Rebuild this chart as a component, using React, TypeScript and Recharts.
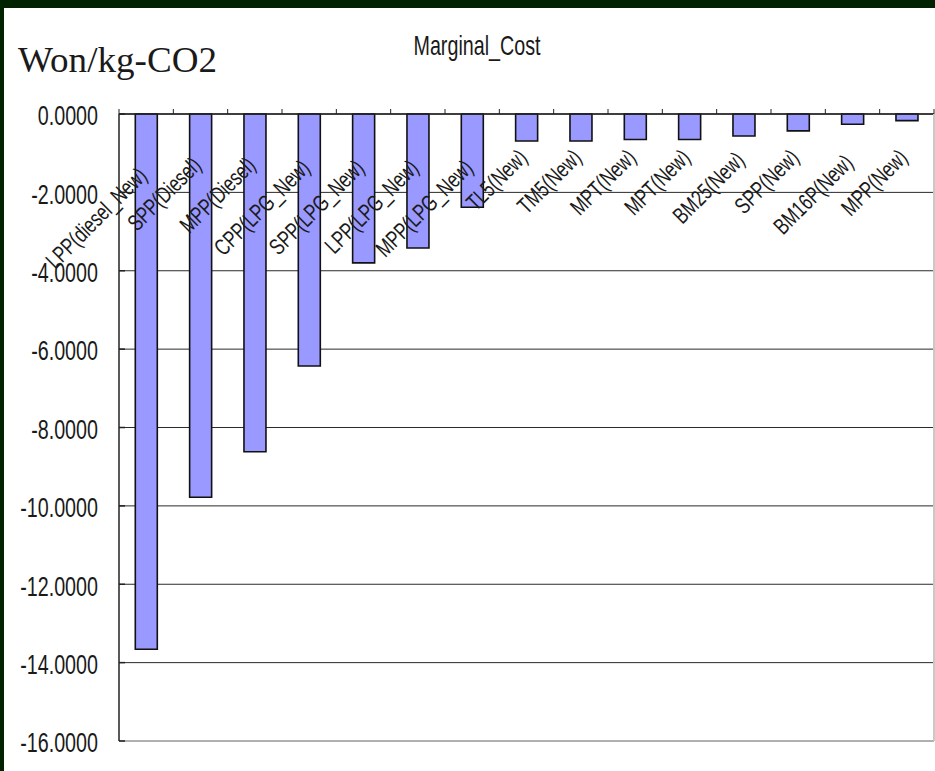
import React from 'react';
import { BarChart, Bar, XAxis, YAxis, CartesianGrid, ReferenceLine, Customized } from 'recharts';

// Marginal abatement cost per technology option (Won per kg of CO2)
const categories = [
  'LPP(diesel_New)',
  'SPP(Diesel)',
  'MPP(Diesel)',
  'CPP(LPG_New)',
  'SPP(LPG_New)',
  'LPP(LPG_New)',
  'MPP(LPG_New)',
  'TL5(New)',
  'TM5(New)',
  'MPT(New)',
  'MPT(New)',
  'BM25(New)',
  'SPP(New)',
  'BM16P(New)',
  'MPP(New)',
];
const marginalCost = [
  -13.66, -9.78, -8.62, -6.43, -3.8, -3.42, -2.38, -0.69, -0.69, -0.65, -0.65, -0.56, -0.43, -0.26, -0.17,
];
const yTicks = [0, -2, -4, -6, -8, -10, -12, -14, -16];
const chartTitle = 'Marginal_Cost';
const unitLabel = 'Won/kg-CO2';

const data = categories.map((name, i) => ({ name, value: marginalCost[i] }));

const W = 935;
const H = 771;
const LEFT_AXIS_W = 119;
const RIGHT_AXIS_W = 1;
const BAND = (W - LEFT_AXIS_W - RIGHT_AXIS_W) / categories.length;
const X_TICK = 5;
const Y_TICK_MARGIN = 21;
const FONT = '"Liberation Sans", Arial, sans-serif';
const TEXT = '#1a1a1a';

// Category labels sit under the zero line, rotated, ending near the category centre;
// longer names drop slightly lower.
const XTick = (props: any) => {
  const { x, y, payload, index } = props;
  const axisY = y + X_TICK;
  const label = String(payload.value);
  const px = x + 2;
  const py = axisY + 45 + (label.length - 8) * 2.6;
  const left = x - BAND / 2;
  const right = x + BAND / 2;
  return (
    <g>
      <line x1={left} x2={left} y1={axisY} y2={axisY - X_TICK} stroke="#222" strokeWidth={1} />
      {index === categories.length - 1 && (
        <line x1={right} x2={right} y1={axisY} y2={axisY - X_TICK} stroke="#222" strokeWidth={1} />
      )}
      <text
        transform={`translate(${px},${py}) rotate(-45) scale(0.74,1)`}
        textAnchor="end"
        fontFamily={FONT}
        fontSize={23}
        fill={TEXT}
      >
        {label}
      </text>
    </g>
  );
};

const YTick = (props: any) => {
  const { x, y, payload } = props;
  const axisX = x + Y_TICK_MARGIN;
  return (
    <g>
      <line x1={axisX} x2={axisX + 6} y1={y} y2={y} stroke="#222" strokeWidth={1.5} />
      <text
        transform={`translate(${x},${y + 11.3}) scale(0.73,1)`}
        textAnchor="end"
        fontFamily={FONT}
        fontSize={27}
        fill={TEXT}
      >
        {Number(payload.value).toFixed(4)}
      </text>
    </g>
  );
};

const Headings = () => (
  <g>
    <text
      transform="translate(477,54.5) scale(0.73,1)"
      textAnchor="middle"
      fontFamily={FONT}
      fontSize={27}
      fill={TEXT}
    >
      {chartTitle}
    </text>
    <text
      x={18}
      y={72}
      fontFamily={'"Liberation Serif", "DejaVu Serif", serif'}
      fontSize={35}
      textLength={199}
      lengthAdjust="spacingAndGlyphs"
      fill={TEXT}
    >
      {unitLabel}
    </text>
  </g>
);

export default function App() {
  return (
    <div style={{ position: 'fixed', left: 0, top: 0, width: W, height: H, background: '#002200' }}>
      <div style={{ position: 'absolute', left: 4, top: 8, right: 0, bottom: 0, background: '#ffffff' }} />
      <div style={{ position: 'absolute', left: 0, top: 0 }}>
        <BarChart
          width={W}
          height={H}
          data={data}
          margin={{ top: 84, right: 0, bottom: 30, left: 0 }}
          barCategoryGap="30%"
        >
          <CartesianGrid vertical={false} stroke="#2a2a2a" strokeWidth={1} />
          <XAxis
            dataKey="name"
            orientation="top"
            height={30}
            interval={0}
            axisLine={{ stroke: '#222', strokeWidth: 1.5 }}
            tickLine={false}
            tickSize={X_TICK}
            tickMargin={0}
            tick={<XTick />}
          />
          <YAxis
            domain={[-16, 0]}
            ticks={yTicks}
            width={LEFT_AXIS_W}
            interval={0}
            axisLine={{ stroke: '#222', strokeWidth: 1.5 }}
            tickLine={false}
            tickSize={0}
            tickMargin={Y_TICK_MARGIN}
            tick={<YTick />}
          />
          <YAxis
            yAxisId="r"
            orientation="right"
            domain={[-16, 0]}
            width={RIGHT_AXIS_W}
            tick={false}
            tickLine={false}
            axisLine={{ stroke: '#c8c8c8', strokeWidth: 2 }}
          />
          <ReferenceLine y={-16} stroke="#b0b0b0" strokeWidth={2} />
          <Bar dataKey="value" fill="#9999ff" stroke="#111" strokeWidth={1.6} isAnimationActive={false} />
          <Customized component={Headings} />
        </BarChart>
      </div>
    </div>
  );
}
